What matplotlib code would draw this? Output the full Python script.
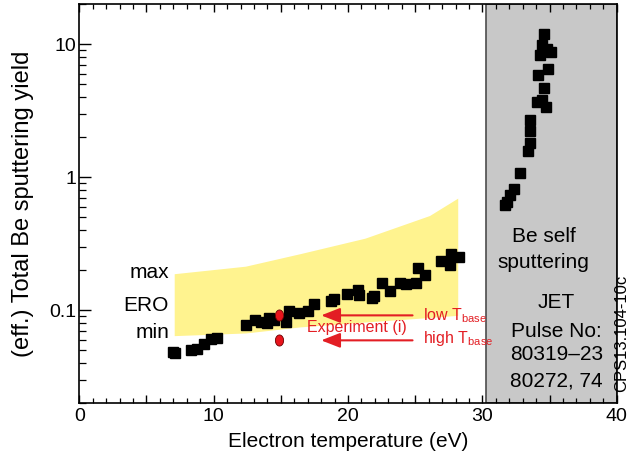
import numpy as np
import matplotlib
matplotlib.use("Agg")
import matplotlib.pyplot as plt
from matplotlib.ticker import FixedLocator, FixedFormatter, MultipleLocator, NullFormatter, FuncFormatter, LogLocator
from matplotlib.path import Path

plt.rcParams['font.family'] = ['Liberation Sans', 'DejaVu Sans']

# ---------------- data ----------------
band_x = [7.1, 12.4, 16.5, 21.3, 26.1, 28.2]
band_hi = [0.187, 0.213, 0.265, 0.346, 0.512, 0.692]
band_lo = [0.064, 0.067, 0.0745, 0.081, 0.0876, 0.091]

te_main = [6.94, 7.09, 8.28, 8.78, 9.28, 9.78, 10.22, 12.41, 13.06, 13.51, 14.0, 14.13,
           14.5, 15.37, 15.62, 16.37, 16.99, 17.49, 18.73, 18.98, 19.9, 20.77, 20.84,
           21.77, 21.96, 22.51, 23.11, 23.83, 24.33, 25.07, 25.2, 25.75, 26.94, 27.56,
           27.63, 28.26]
y_main = [0.049, 0.0475, 0.0503, 0.0509, 0.0555, 0.0605, 0.0616, 0.0781, 0.0846, 0.0817,
          0.0808, 0.0881, 0.0846, 0.0817, 0.0988, 0.0961, 0.0988, 0.112, 0.1175, 0.1224,
          0.1335, 0.1414, 0.1297, 0.1246, 0.128, 0.1616, 0.1397, 0.1596, 0.157, 0.1616,
          0.207, 0.1833, 0.235, 0.218, 0.264, 0.253]

te_self = [34.6, 34.45, 35.1, 34.8, 34.3, 34.9, 34.16, 34.6, 34.1, 34.4, 34.7, 33.53,
           33.56, 33.56, 33.4, 32.8, 32.34, 32.07, 31.8, 31.66]
y_self = [11.9, 9.89, 8.81, 9.17, 8.26, 6.56, 5.85, 4.72, 3.68, 3.80, 3.39, 2.70,
          2.23, 1.80, 1.58, 1.07, 0.822, 0.733, 0.652, 0.624]

exp_te = [14.87, 14.87]
exp_y = [0.0917, 0.0595]
exp_labels = ['low T$_{\\mathregular{base}}$', 'high T$_{\\mathregular{base}}$']

self_region = (30.25, 40)
x_ticks = [0, 10, 20, 30, 40]
y_ticks = [0.1, 1, 10]
y_ticklabels = ['0.1', '1', '10']

red = '#e31e24'

# ---------------- figure ----------------
fig = plt.figure(figsize=(6.3, 4.59), dpi=100)
ax = fig.add_axes([0.1259, 0.1213, 0.979 - 0.1259, 0.9906 - 0.1213])
ax.set_yscale('log')
ax.set_xlim(0, 40)
ax.set_ylim(0.02, 20)

ax.fill_between(band_x, band_lo, band_hi, facecolor='#fff38f', edgecolor='none', zorder=1)
ax.axvspan(self_region[0], self_region[1], facecolor='#c8c8c8', edgecolor='#4d4d4d', lw=1.2, zorder=1)

ax.plot(te_main, y_main, 's', color='black', markersize=6.7, zorder=3)
ax.plot(te_self, y_self, 's', color='black', markersize=6.7, zorder=3)

th = np.linspace(0, 2 * np.pi, 60)
ell = Path(np.column_stack([0.74 * np.cos(th), np.sin(th)]))
ax.plot(exp_te, exp_y, linestyle='none', marker=ell, markersize=8,
        markerfacecolor='#e8141c', markeredgecolor='#6a0000', markeredgewidth=0.6, zorder=4)

for yv, lab in zip(exp_y, exp_labels):
    ax.annotate('', xy=(18.0, yv), xytext=(24.8, yv),
                arrowprops=dict(arrowstyle='-|>,head_length=1.15,head_width=0.45',
                                color=red, lw=1.5, shrinkA=0, shrinkB=0), zorder=5)
ax.text(25.6, 0.0906, exp_labels[0], color=red, fontsize=11.5, ha='left', va='center')
ax.text(25.6, 0.0617, exp_labels[1], color=red, fontsize=11.5, ha='left', va='center')
ax.text(20.67, 0.0746, 'Experiment (i)', color=red, fontsize=11.5, ha='center', va='center')

ax.text(6.68, 0.193, 'max', fontsize=15, ha='right', va='center')
ax.text(6.68, 0.109, 'ERO', fontsize=15, ha='right', va='center')
ax.text(6.68, 0.0684, 'min', fontsize=15, ha='right', va='center')

ax.text(34.6, 0.359, 'Be self', fontsize=15, ha='center', va='center')
ax.text(34.55, 0.229, 'sputtering', fontsize=15, ha='center', va='center')
ax.text(35.5, 0.115, 'JET', fontsize=15, ha='center', va='center')
ax.text(35.5, 0.0696, 'Pulse No:', fontsize=15, ha='center', va='center')
ax.text(35.5, 0.0467, '80319\u201323', fontsize=15, ha='center', va='center')
ax.text(35.5, 0.0293, '80272, 74', fontsize=15, ha='center', va='center')

fig.text(0.987, 0.274, 'CPS13.104-10c', fontsize=12, rotation=90, ha='center', va='center')

# ticks
ax.xaxis.set_major_locator(MultipleLocator(5))
ax.xaxis.set_minor_locator(MultipleLocator(1))
ax.xaxis.set_major_formatter(FuncFormatter(lambda v, p: ('%d' % v) if int(round(v)) in x_ticks else ''))
ax.yaxis.set_major_locator(FixedLocator(y_ticks))
ax.yaxis.set_major_formatter(FixedFormatter(y_ticklabels))
ax.yaxis.set_minor_locator(LogLocator(base=10, subs=np.arange(2, 10)))
ax.yaxis.set_minor_formatter(NullFormatter())

ax.tick_params(axis='x', which='major', direction='in', length=6, width=1, top=True,
               labelsize=14, pad=3.5)
ax.tick_params(axis='x', which='minor', direction='in', length=3.6, width=0.9, top=True)
ax.tick_params(axis='y', which='major', direction='in', length=8.6, width=1, right=False,
               labelsize=14, pad=2)
ax.tick_params(axis='y', which='minor', direction='in', length=5, width=0.9, right=False)
for s in ax.spines.values():
    s.set_linewidth(1.2)

ax.set_xlabel('Electron temperature (eV)', fontsize=15)
ax.xaxis.set_label_coords(0.5, -0.072)
ax.set_ylabel('(eff.) Total Be sputtering yield', fontsize=17)
ax.yaxis.set_label_coords(-0.085, 0.5)

fig.savefig('out.png', dpi=100)
